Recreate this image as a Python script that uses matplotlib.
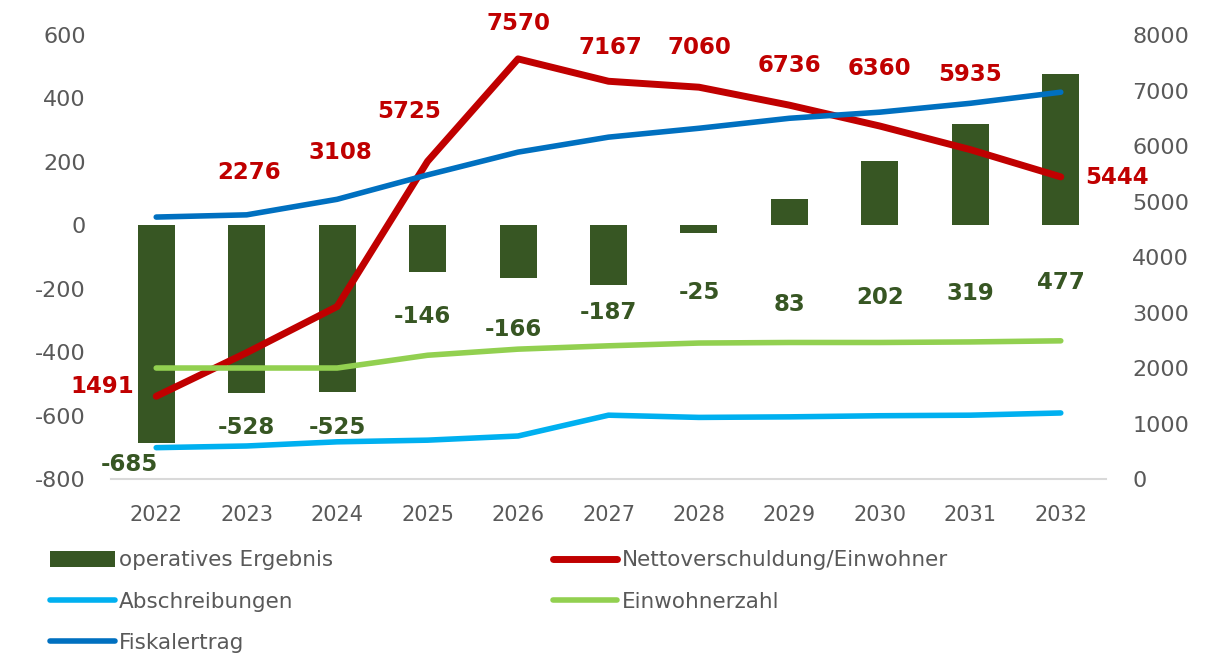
import numpy as np
import matplotlib
matplotlib.use("Agg")
from matplotlib import pyplot as plt

plt.rcParams['axes.unicode_minus'] = False

# Data
years = ['2022', '2023', '2024', '2025', '2026', '2027', '2028', '2029', '2030', '2031', '2032']
operatives_ergebnis = [-685, -528, -525, -146, -166, -187, -25, 83, 202, 319, 477]
nettoverschuldung = [1491, 2276, 3108, 5725, 7570, 7167, 7060, 6736, 6360, 5935, 5444]
abschreibungen = [565, 595, 670, 700, 775, 1150, 1110, 1120, 1140, 1150, 1190]
einwohnerzahl = [2000, 2000, 2000, 2230, 2340, 2400, 2450, 2460, 2460, 2470, 2490]
fiskalertrag = [4720, 4760, 5040, 5480, 5890, 6160, 6320, 6500, 6610, 6770, 6970]

# label placement (layout only)
bar_label_y = [-754, -637, -637, -287, -328, -274, -211, -249, -227, -214, -180]
bar_label_dx = [-0.3, 0, 0, -0.06, -0.05, 0, 0, 0, 0, 0, 0]
red_label_y = [1658, 5514, 5892, 6631, 8216, 7784, 7784, 7459, 7405, 7297, 5441]
red_label_dx = [-0.6, 0.03, 0.04, -0.2, 0.0, 0.02, 0, 0, 0, 0, 0.62]

c_bar = '#375623'
c_red = '#C00000'
c_cyan = '#00B0F0'
c_lgreen = '#92D050'
c_blue = '#0070C0'
c_tick = '#595959'

x = np.arange(len(years))

fig = plt.figure(figsize=(12.17, 6.56), dpi=100)
ax = fig.add_axes([0.0912, 0.2698, 0.8176, 0.6768])
ax2 = ax.twinx()

bars = ax.bar(x, operatives_ergebnis, width=0.41, color=c_bar, zorder=2)
ax.set_ylim(-800, 600)
ax.set_yticks(np.arange(-800, 601, 200))
ax.set_xlim(-0.5, 10.5)
ax.set_xticks(x)
ax.set_xticklabels(years)

l_netto, = ax2.plot(x, nettoverschuldung, color=c_red, lw=5, solid_capstyle='round', solid_joinstyle='round')
l_absch, = ax2.plot(x, abschreibungen, color=c_cyan, lw=4, solid_capstyle='round', solid_joinstyle='round')
l_einw, = ax2.plot(x, einwohnerzahl, color=c_lgreen, lw=4, solid_capstyle='round', solid_joinstyle='round')
l_fisk, = ax2.plot(x, fiskalertrag, color=c_blue, lw=4, solid_capstyle='round', solid_joinstyle='round')
ax2.set_ylim(0, 8000)
ax2.set_yticks(np.arange(0, 8001, 1000))

for a in (ax, ax2):
    for s in a.spines.values():
        s.set_visible(False)
ax.spines['bottom'].set_visible(True)
ax.spines['bottom'].set_color('#D9D9D9')
ax.spines['bottom'].set_linewidth(1.5)

ax.tick_params(axis='y', length=0, pad=18, labelsize=16, labelcolor=c_tick)
ax.tick_params(axis='x', length=0, pad=19, labelsize=15, labelcolor=c_tick)
ax2.tick_params(axis='y', length=0, pad=19, labelsize=16, labelcolor=c_tick)

for i, v in enumerate(operatives_ergebnis):
    ax.text(x[i] + bar_label_dx[i], bar_label_y[i], str(v), color=c_bar,
            fontsize=16.5, fontweight='bold', ha='center', va='center', zorder=5)

for i, v in enumerate(nettoverschuldung):
    ax2.text(x[i] + red_label_dx[i], red_label_y[i], str(v), color=c_red,
             fontsize=16.5, fontweight='bold', ha='center', va='center', clip_on=False)

fig.legend([bars, l_absch, l_fisk, l_netto, l_einw],
           ['operatives Ergebnis', 'Abschreibungen', 'Fiskalertrag',
            'Nettoverschuldung/Einwohner', 'Einwohnerzahl'],
           ncol=2, loc='upper left', bbox_to_anchor=(0.034, 0.174),
           frameon=False, fontsize=15.5, labelcolor=c_tick,
           handlelength=3.0, handleheight=0.8, handletextpad=0.2,
           columnspacing=10.2, labelspacing=0.98, borderaxespad=0)

fig.savefig('out.png', dpi=100)
